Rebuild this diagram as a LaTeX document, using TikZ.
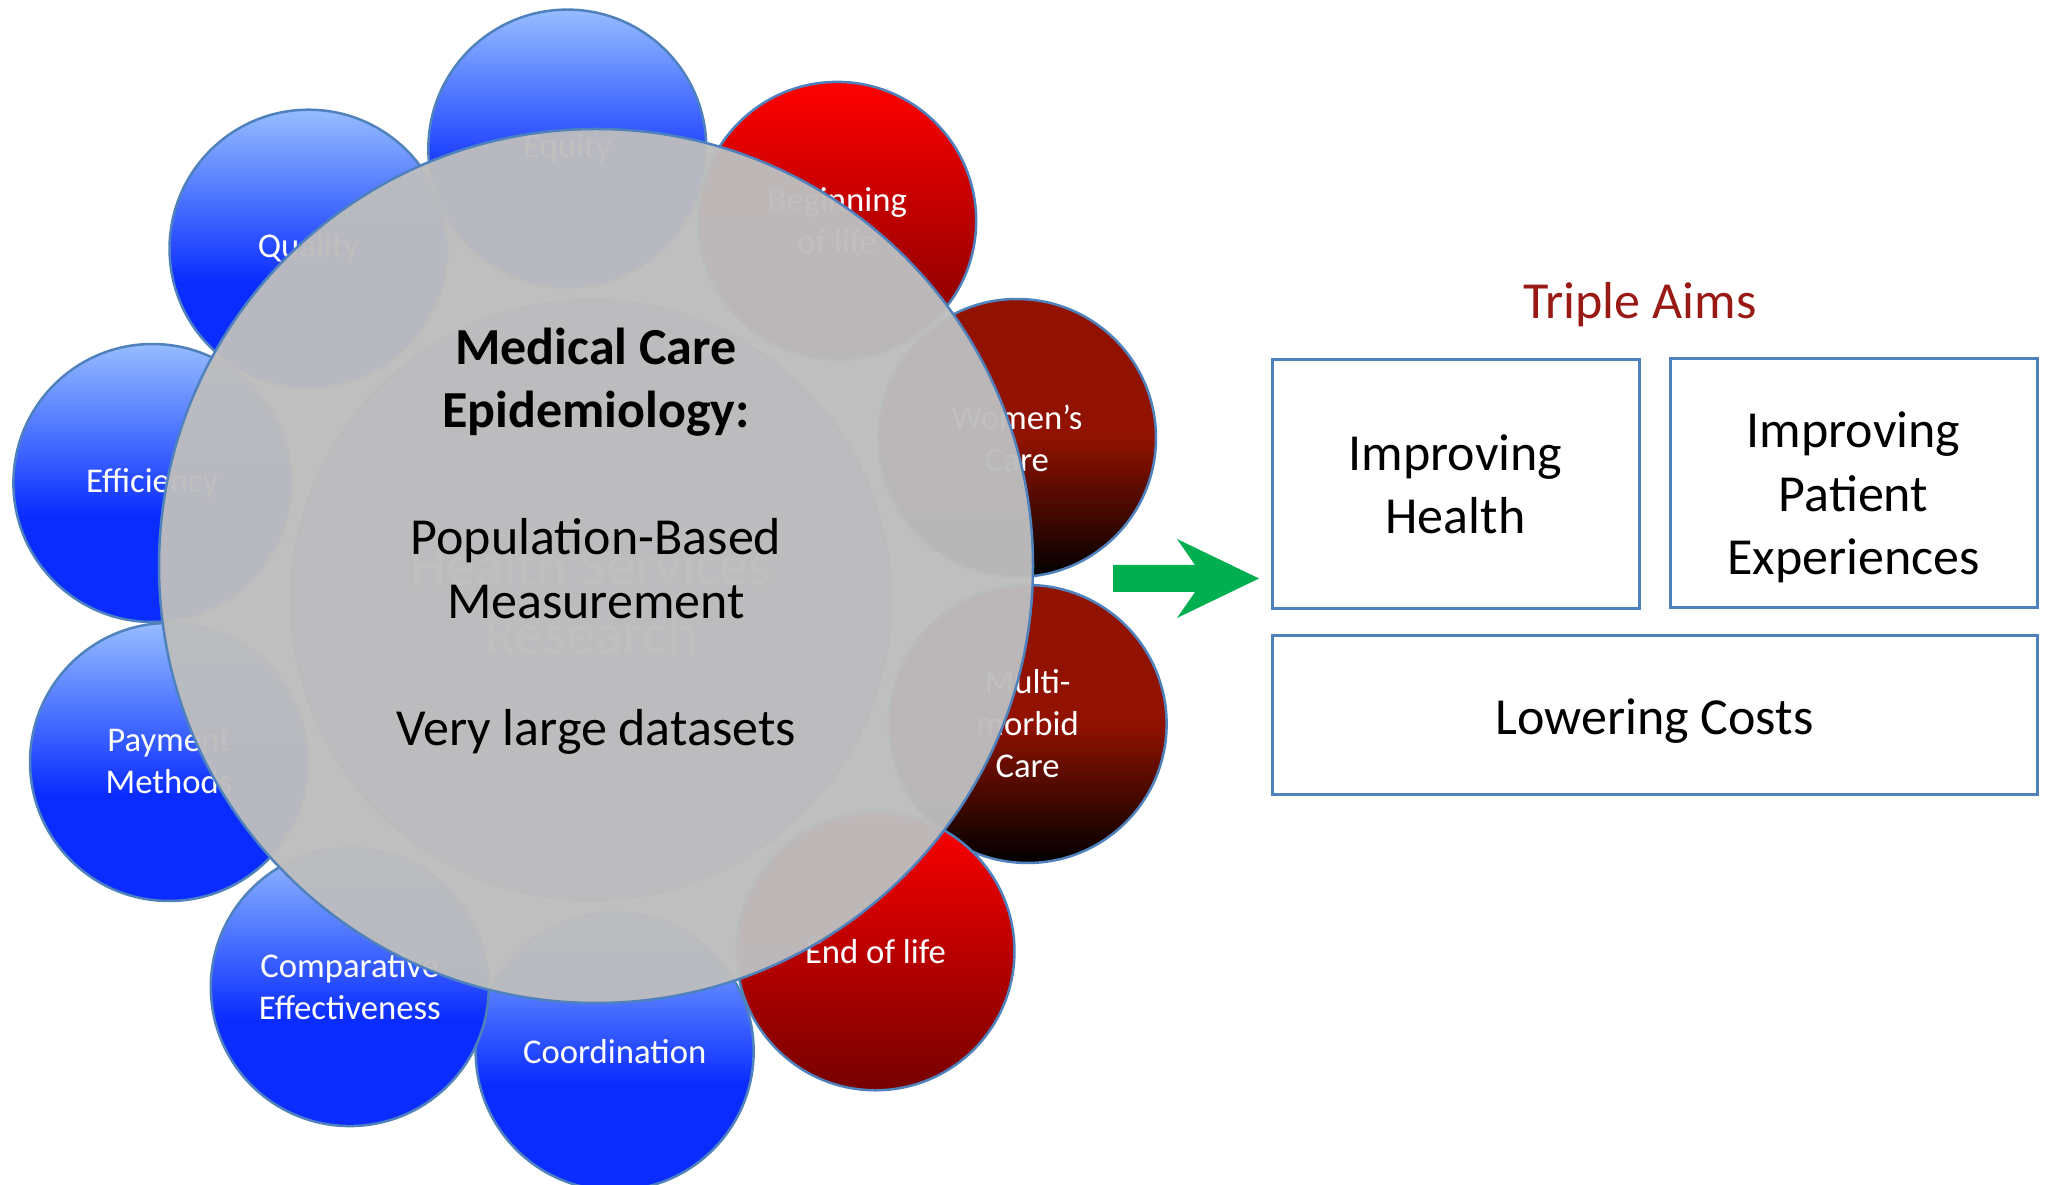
\documentclass[tikz,border=0pt]{standalone}
\usepackage{fontspec}
\setmainfont{Carlito}
\usetikzlibrary{calc}

\definecolor{edgeblue}{RGB}{79,129,189}
\definecolor{bluetop}{RGB}{150,188,255}
\definecolor{bluemid}{RGB}{80,120,255}
\definecolor{bluebot}{RGB}{10,44,255}
\definecolor{redtop}{RGB}{255,0,0}
\definecolor{redbot}{RGB}{118,0,0}
\definecolor{maroontop}{RGB}{145,18,0}
\definecolor{veilgray}{RGB}{189,189,190}
\definecolor{discfill}{RGB}{170,178,200}
\definecolor{aimred}{RGB}{153,26,20}
\definecolor{arrowgreen}{RGB}{0,176,80}

% vertical fills for the petals (25bp = bottom of the disc, 75bp = top)
\pgfdeclareverticalshading{bluepetal}{100bp}{color(0bp)=(bluebot); color(44bp)=(bluebot); color(60bp)=(bluemid); color(75bp)=(bluetop); color(100bp)=(bluetop)}
\pgfdeclareverticalshading{redpetal}{100bp}{color(0bp)=(redbot); color(25bp)=(redbot); color(75bp)=(redtop); color(100bp)=(redtop)}
\pgfdeclareverticalshading{maroonpetal}{100bp}{color(0bp)=(black); color(25bp)=(black); color(50bp)=(maroontop); color(100bp)=(maroontop)}

\tikzset{
  petal/.style={circle, draw=edgeblue, line width=2.5pt, minimum size=278pt,
    inner sep=0pt, text=white, align=center, font=\fontsize{34.7}{42}\selectfont},
  bluepet/.style={petal, shading=bluepetal},
  redpet/.style={petal, shading=redpetal},
  maroonpet/.style={petal, shading=maroonpetal},
  aimbox/.style={draw=edgeblue, line width=3pt, inner sep=0pt, align=center,
    font=\fontsize{52}{63.5}\selectfont},
  bigtext/.style={align=center, font=\fontsize{52}{63.5}\selectfont},
}

\begin{document}
\begin{tikzpicture}[x=1pt,y=1pt]
\useasboundingbox (0,0) rectangle (2046,1185);
\coordinate (hub) at (591,585);

% central disc of the radial layout
\node[circle, minimum size=600pt, fill=discfill, draw=edgeblue, line width=2.5pt,
  text=white, align=center, font=\fontsize{58}{68}\selectfont] (hsr) at (hub)
  {Health Services\\Research};

% ring of topic petals
\node[bluepet]   (equity)  at ($(hub)+(93:452)$)   {Equity};
\node[redpet]    (begin)   at ($(hub)+(57:452)$)   {Beginning\\of life};
\node[maroonpet] (women)   at ($(hub)+(21:452)+(4,0)$)   {Women’s\\Care};
\node[maroonpet] (multi)   at ($(hub)+(-15:452)+(0,-7)$)  {Multi-\\morbid\\Care};
\node[redpet]    (endlife) at ($(hub)+(-51:452)$)  {End of life};
\node[bluepet]   (coord)   at ($(hub)+(-87:452)$)  {Coordination};
\node[bluepet]   (compeff) at ($(hub)+(-123:452)+(5,-8)$) {Comparative\\Effectiveness};
\node[bluepet]   (payment) at ($(hub)+(-159:452)$) {Payment\\Methods};
\node[bluepet]   (effic)   at ($(hub)+(165:452)+(-2,0)$)  {Efficiency};
\node[bluepet]   (quality) at ($(hub)+(129:452)+(2,0)$)  {Quality};

% grey veil over the centre
\node[circle, minimum size=874pt, inner sep=0pt, fill=veilgray, fill opacity=0.97,
  draw=edgeblue, draw opacity=1, line width=2.5pt] (veil) at (596,619) {};

\node[bigtext] (focus) at (596,644)
  {\textbf{Medical Care}\\\textbf{Epidemiology:}\\[63.5pt]Population-Based\\Measurement\\[63.5pt]Very large datasets};

% green block arrow
\coordinate (tail) at (1113,606.5);
\fill[arrowgreen] ($(tail)+(0,13.5)$) -- ++(82,0) -- ++(-18,26) -- (1259,606.5)
  -- (1177,567) -- (1195,593) -- ($(tail)+(0,-13.5)$) -- cycle;

% the three aims
\node[font=\fontsize{52}{63.5}\selectfont, text=aimred] (aims) at (1640,880) {Triple Aims};
\node[aimbox, minimum width=367pt, minimum height=249pt] (health) at (1455.5,700.5)
  {Improving\\Health};
\node[aimbox, minimum width=367pt, minimum height=249pt] (patient) at (1853.5,701.5) {};
\node[bigtext] (patienttext) at ($(patient)+(0,-14)$) {Improving\\Patient\\Experiences};
\node[aimbox, minimum width=765pt, minimum height=159pt] (costs) at (1654.5,469.5) {};
\node[bigtext] (coststext) at ($(costs)+(0,-6)$) {Lowering Costs};
\end{tikzpicture}
\end{document}
